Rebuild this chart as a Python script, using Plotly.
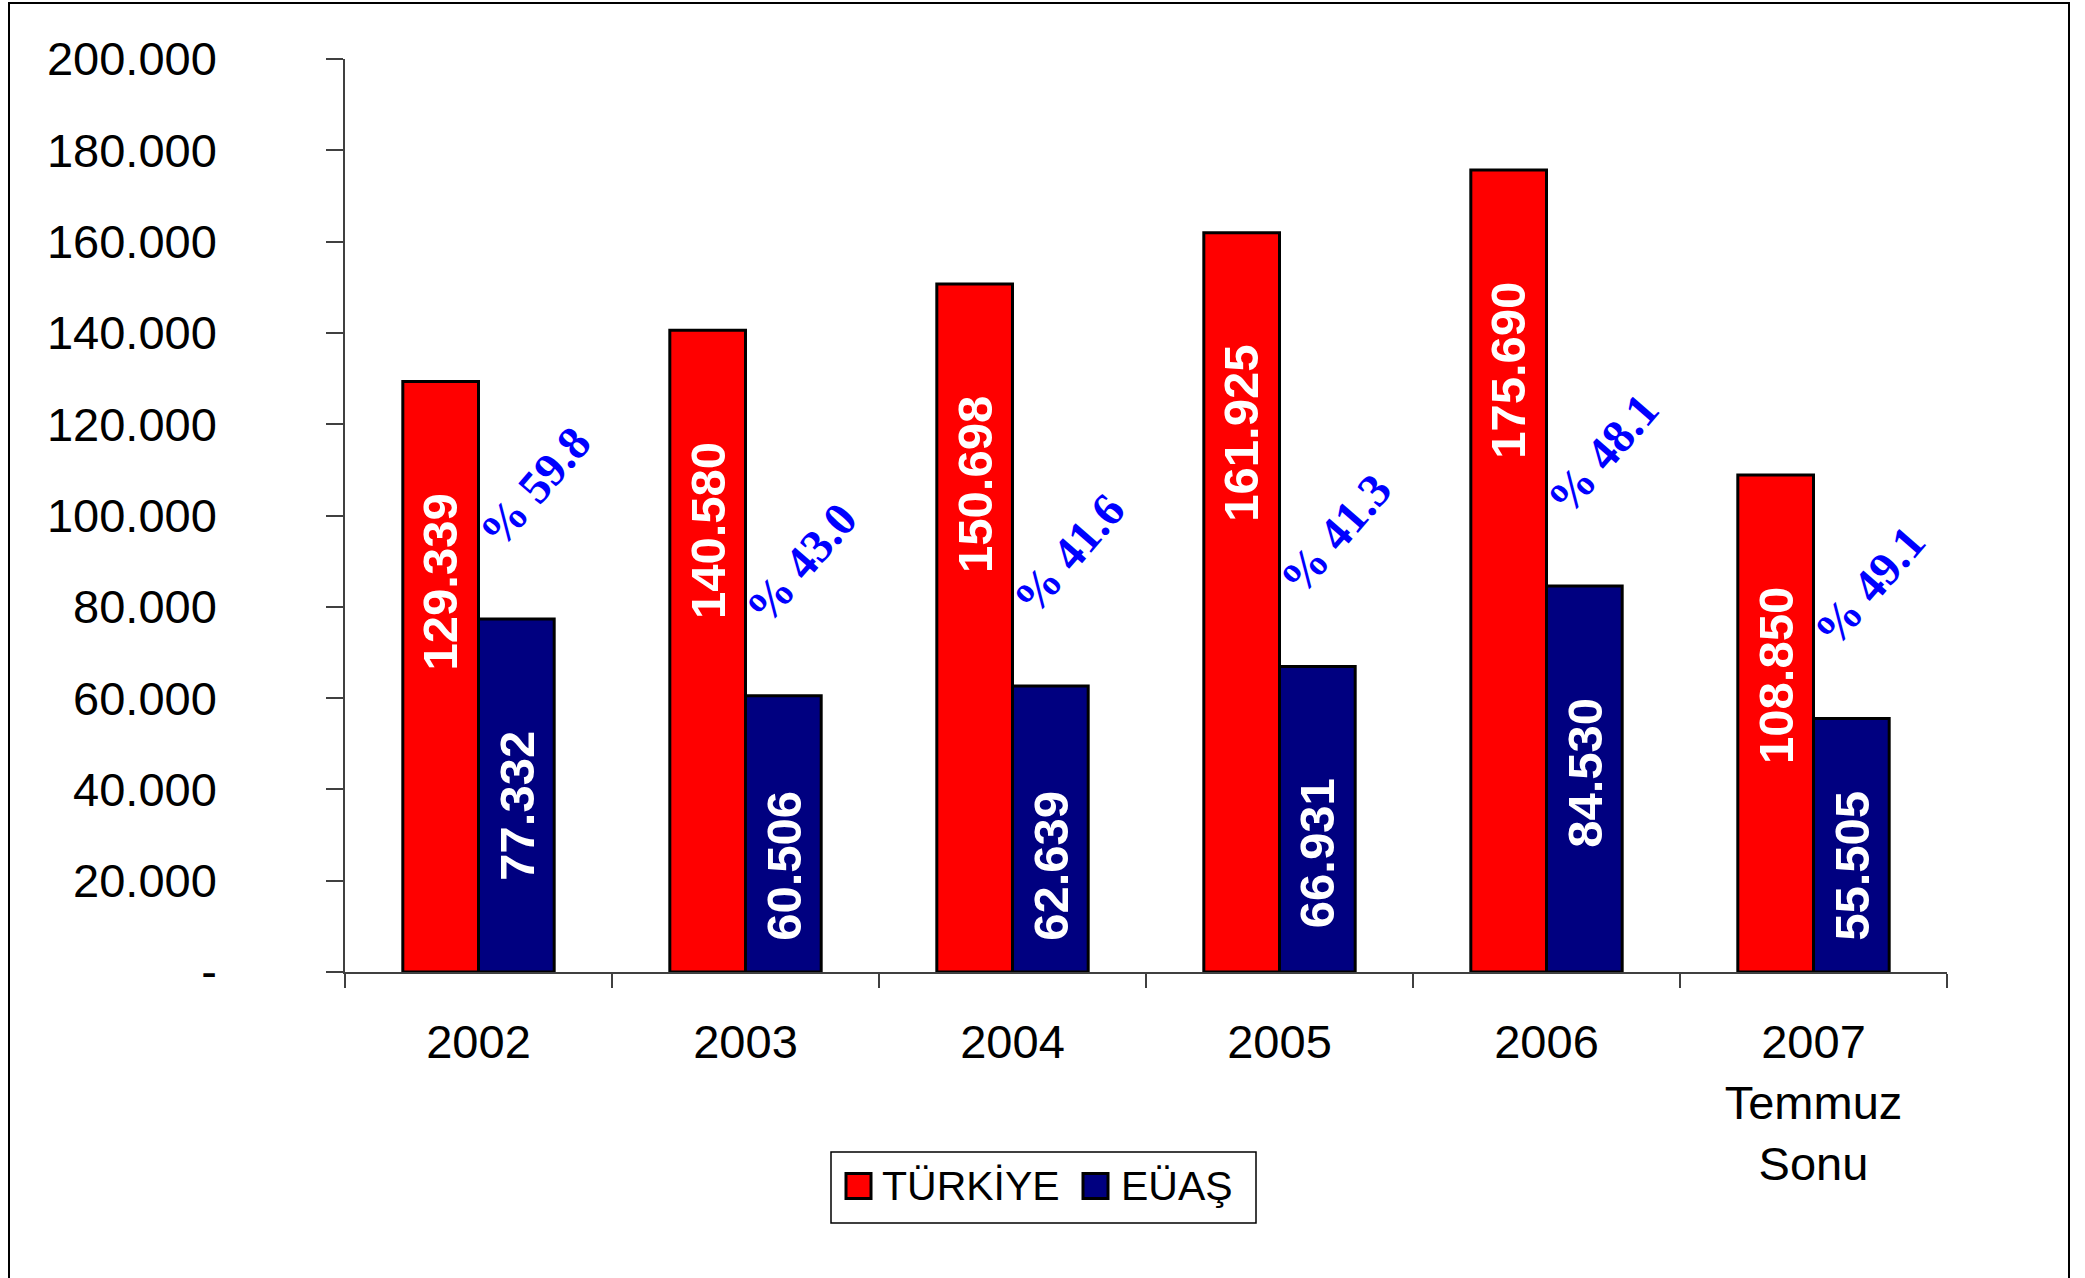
import plotly.graph_objects as go

# ---------------- data ----------------
categories = ["2002", "2003", "2004", "2005", "2006", "2007<br>Temmuz<br>Sonu"]
turkiye = [129339, 140580, 150698, 161925, 175690, 108850]
euas = [77332, 60506, 62639, 66931, 84530, 55505]
share_labels = ["% 59.8", "% 43.0", "% 41.6", "% 41.3", "% 48.1", "% 49.1"]
series_names = ["TÜRKİYE", "EÜAŞ"]
series_colors = ["#FF0000", "#000080"]
ytick_vals = [0, 20000, 40000, 60000, 80000, 100000, 120000, 140000, 160000, 180000, 200000]


def fmt(v):
    return f"{v:,}".replace(",", ".")


ytick_text = ["-" if v == 0 else fmt(v) for v in ytick_vals]

# ---------------- layout constants ----------------
W, H = 2085, 1278
ML, MR, MT, MB = 345, 138, 59, 306
PW, PH = W - ML - MR, H - MT - MB
YMAX = 200000
U = YMAX / PH  # data units per pixel

FONT = "Arial, Liberation Sans, sans-serif"
SERIF = "Times New Roman, Liberation Serif, serif"
LBL_SIZE = 49
LABEL_OFFSET = 110 * U      # gap between bar top and label end
LABEL_MIN = 33 * U          # minimum distance of label from axis


def px_x(p):
    return (p - ML) / PW


def px_y(p):
    return (H - MB - p) / PH


fig = go.Figure()
for name, vals, col in zip(series_names, [turkiye, euas], series_colors):
    fig.add_trace(go.Bar(x=categories, y=vals, name=name, showlegend=False,
                         marker=dict(color=col, line=dict(color="black", width=3))))

annotations = []
for si, vals in enumerate([turkiye, euas]):
    for i, v in enumerate(vals):
        txt = fmt(v)
        ndig = sum(c.isdigit() for c in txt)
        len_data = LBL_SIZE * (0.556 * ndig + 0.278) * U
        top = max(v - LABEL_OFFSET, LABEL_MIN + len_data)
        annotations.append(dict(
            x=i + (-0.143 if si == 0 else 0.143), y=top, xref="x", yref="y",
            text=f"<b>{txt}</b>", textangle=-90, showarrow=False,
            xanchor="center", yanchor="top",
            font=dict(family=FONT, size=LBL_SIZE, color="white")))

for i, (v, s) in enumerate(zip(euas, share_labels)):
    annotations.append(dict(
        x=i + 0.21, y=v + 29000, xref="x", yref="y",
        text=f"<b>{s}</b>", textangle=-49, showarrow=False,
        xanchor="center", yanchor="middle",
        font=dict(family=SERIF, size=47, color="#0000FF")))

# legend (drawn in paper space to get large swatches like the reference)
LEG_BOX = (831, 1152, 1256, 1223)
LEG_SWATCH_X = [846, 1083]
LEG_TEXT_X = [880, 1119]
LEG_CY = 1186
SW = 25
shapes = [dict(type="rect", xref="paper", yref="paper",
               x0=px_x(9), x1=px_x(2069), y0=px_y(1290), y1=px_y(3),
               line=dict(color="black", width=2), layer="below"),
          dict(type="rect", xref="paper", yref="paper",
               x0=px_x(LEG_BOX[0]), x1=px_x(LEG_BOX[2]), y0=px_y(LEG_BOX[3]), y1=px_y(LEG_BOX[1]),
               line=dict(color="black", width=1.5), fillcolor="white")]
for name, col, sx, tx in zip(series_names, series_colors, LEG_SWATCH_X, LEG_TEXT_X):
    shapes.append(dict(type="rect", xref="paper", yref="paper",
                       x0=px_x(sx), x1=px_x(sx + SW), y0=px_y(LEG_CY + SW / 2), y1=px_y(LEG_CY - SW / 2),
                       line=dict(color="black", width=3), fillcolor=col))
    annotations.append(dict(x=px_x(tx), y=px_y(LEG_CY), xref="paper", yref="paper",
                            text=name, showarrow=False, xanchor="left", yanchor="middle",
                            font=dict(family=FONT, size=41, color="black")))

fig.update_layout(
    width=W, height=H,
    margin=dict(l=ML, r=MR, t=MT, b=MB, autoexpand=False),
    paper_bgcolor="white", plot_bgcolor="white",
    barmode="group", bargap=0.433, bargroupgap=0,
    font=dict(family=FONT, size=47, color="black"),
    showlegend=False,
    annotations=annotations,
    shapes=shapes,
    xaxis=dict(showline=True, linecolor="#404040", linewidth=1.5,
               ticks="outside", tickson="boundaries", ticklen=14, tickcolor="#404040", tickwidth=1.5,
               showgrid=False, zeroline=False, ticklabelstandoff=28,
               tickfont=dict(family=FONT, size=47, color="black")),
    yaxis=dict(range=[0, YMAX], showline=True, linecolor="#404040", linewidth=1.5,
               ticks="outside", ticklen=17, tickcolor="#404040", tickwidth=1.5,
               tickvals=ytick_vals, ticktext=ytick_text, showgrid=False, zeroline=False,
               ticklabelstandoff=100,
               tickfont=dict(family=FONT, size=47, color="black")),
)

fig.write_html("out.html", config={"displayModeBar": False},
               post_script="document.body.style.margin='0';document.body.style.overflow='hidden';")
